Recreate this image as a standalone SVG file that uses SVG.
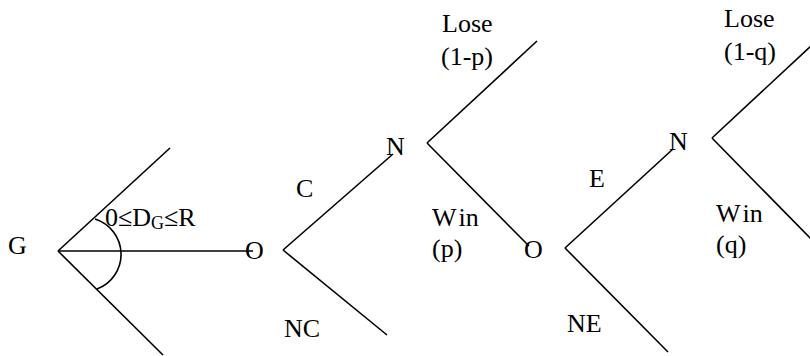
<svg xmlns="http://www.w3.org/2000/svg" width="810" height="356" viewBox="0 0 810 356">
<style>
  text { font-family: "Liberation Serif", "Times New Roman", serif; font-size: 26px; fill: #000; }
  .sub { font-size: 18px; }
  .edge { stroke: #000; stroke-width: 1.6; fill: none; }
</style>
<rect width="810" height="356" fill="#fff"/>
<g id="connectors">
  <line class="edge" x1="58" y1="251" x2="170" y2="148"/>
  <line class="edge" x1="58" y1="251" x2="163" y2="355"/>
  <line class="edge" x1="58" y1="251" x2="253" y2="251"/>
  <path class="edge" d="M95,219 A37,37 0 0 1 97,289"/>
  <line class="edge" x1="283" y1="250" x2="393" y2="154"/>
  <line class="edge" x1="283" y1="250" x2="387" y2="335"/>
  <line class="edge" x1="427" y1="143" x2="537" y2="41"/>
  <line class="edge" x1="427" y1="143" x2="529" y2="246"/>
  <line class="edge" x1="565" y1="248" x2="673" y2="149"/>
  <line class="edge" x1="565" y1="248" x2="668" y2="352"/>
  <line class="edge" x1="712" y1="138" x2="812" y2="45"/>
  <line class="edge" x1="712" y1="138" x2="812" y2="240"/>
</g>
<g id="node-G"><text x="8" y="254">G</text></g>
<g id="label-range"><text x="105" y="226">0≤D<tspan class="sub" dy="3">G</tspan><tspan dy="-3">≤R</tspan></text></g>
<g id="node-O1"><text x="245" y="259">O</text></g>
<g id="label-C"><text x="296" y="197">C</text></g>
<g id="label-NC"><text x="284" y="337">NC</text></g>
<g id="node-N1"><text x="386" y="155">N</text></g>
<g id="label-lose-p"><text x="442" y="32">Lose</text><text x="441" y="65">(1-p)</text></g>
<g id="label-win-p"><text x="432" y="226">W<tspan dx="3">in</tspan></text><text x="432" y="257">(p)</text></g>
<g id="node-O2"><text x="524" y="258">O</text></g>
<g id="label-E"><text x="589" y="187">E</text></g>
<g id="label-NE"><text x="567" y="332">NE</text></g>
<g id="node-N2"><text x="669" y="150">N</text></g>
<g id="label-lose-q"><text x="724" y="27">Lose</text><text x="724" y="60">(1-q)</text></g>
<g id="label-win-q"><text x="716" y="222">W<tspan dx="3">in</tspan></text><text x="716" y="253">(q)</text></g>
</svg>
